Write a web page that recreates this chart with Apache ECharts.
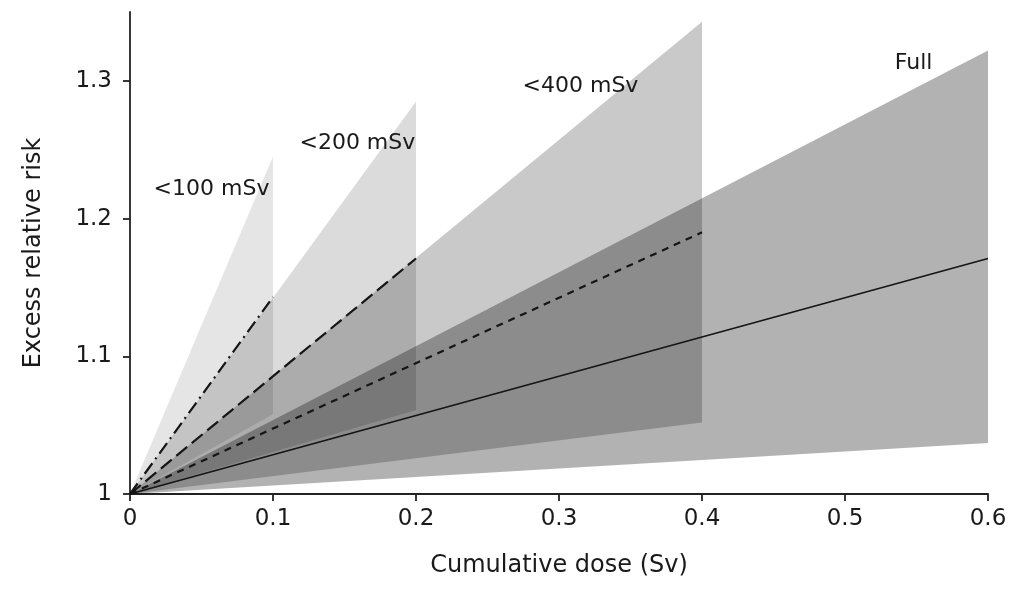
<!DOCTYPE html>
<html>
<head>
<meta charset="utf-8">
<script src="https://cdn.jsdelivr.net/npm/echarts@6/dist/echarts.min.js"></script>
<style>html,body{margin:0;padding:0;background:#fff;}#c{width:1019px;height:594px;}</style>
</head>
<body>
<div id="c"></div>
<script>
// Band data (each band is a cone from the origin (0, 1))
const bandNames = ['Full', '<400 mSv', '<200 mSv', '<100 mSv'];
const bandMaxDose = [0.6, 0.4, 0.2, 0.1];
const bandUpper = [1.322, 1.343, 1.285, 1.245];
const bandLower = [1.037, 1.052, 1.061, 1.058];
const centralEnd = [1.171, 1.19, 1.171, 1.143];
const xTicks = [0, 0.1, 0.2, 0.3, 0.4, 0.5, 0.6];
const yTicks = [1, 1.1, 1.2, 1.3];
const labelTexts = ['Full', '<400 mSv', '<200 mSv', '<100 mSv'];
const labelAnchors = [[0.548, 1.313], [0.315, 1.296], [0.159, 1.255], [0.057, 1.221]];

const bandOpacity = [0.30, 0.21, 0.14, 0.10];
const lineTypes = ['solid', [7, 6], [14, 6], [13, 5, 2, 5]];

const chart = echarts.init(document.getElementById('c'), null, {renderer: 'canvas'});
const FONT = 'DejaVu Sans';

const bandSeries = {
  type: 'custom',
  silent: true,
  z: 1,
  data: bandMaxDose.map((d, i) => [d, bandUpper[i], bandLower[i]]),
  renderItem: function (params, api) {
    const i = params.dataIndex;
    const x = api.value(0), up = api.value(1), lo = api.value(2);
    const pts = [api.coord([0, 1]), api.coord([x, up]), api.coord([x, lo])];
    return {
      type: 'polygon',
      shape: {points: pts},
      style: {fill: 'rgba(0,0,0,' + bandOpacity[i] + ')', stroke: null}
    };
  }
};

const lineSeries = bandMaxDose.map((d, i) => ({
  type: 'line',
  name: bandNames[i],
  data: [[0, 1], [d, centralEnd[i]]],
  symbol: 'none',
  silent: true,
  z: 3,
  lineStyle: {color: '#151515', width: i === 0 ? 1.6 : 2.2, type: lineTypes[i]}
}));

const labelSeries = {
  type: 'scatter',
  symbolSize: 0,
  silent: true,
  z: 4,
  itemStyle: {opacity: 1, color: 'rgba(0,0,0,0)'},
  data: labelAnchors.map((p, i) => ({value: p, name: labelTexts[i]})),
  label: {
    show: true,
    position: 'inside',
    formatter: p => p.name,
    fontFamily: FONT,
    fontSize: 22,
    color: '#1a1a1a',
    opacity: 1,
    textBorderWidth: 0
  }
};

chart.setOption({
  animation: false,
  backgroundColor: '#fff',
  grid: {left: 130, right: 31, top: 12, bottom: 100},
  xAxis: {
    type: 'value',
    min: 0, max: 0.6, interval: 0.1,
    name: 'Cumulative dose (Sv)',
    nameLocation: 'middle',
    nameGap: 60,
    nameTextStyle: {fontFamily: FONT, fontSize: 24, color: '#1a1a1a'},
    axisLine: {show: true, lineStyle: {color: '#222', width: 1.8}},
    axisTick: {show: true, length: 7, lineStyle: {color: '#222', width: 1.8}, customValues: xTicks},
    axisLabel: {fontFamily: FONT, fontSize: 23, color: '#1a1a1a', margin: 14, customValues: xTicks,
      formatter: v => String(+v.toFixed(1))},
    splitLine: {show: false}
  },
  yAxis: {
    type: 'value',
    min: 1, max: 1.35, interval: 0.1,
    name: 'Excess relative risk',
    nameLocation: 'middle',
    nameGap: 84,
    nameTextStyle: {fontFamily: FONT, fontSize: 24, color: '#1a1a1a'},
    axisLine: {show: true, lineStyle: {color: '#222', width: 1.8}},
    axisTick: {show: true, length: 7, lineStyle: {color: '#222', width: 1.8}, customValues: yTicks},
    axisLabel: {fontFamily: FONT, fontSize: 23, color: '#1a1a1a', margin: 18, customValues: yTicks,
      formatter: v => String(+v.toFixed(1))},
    splitLine: {show: false}
  },
  series: [bandSeries].concat(lineSeries, [labelSeries])
});
</script>
</body>
</html>
